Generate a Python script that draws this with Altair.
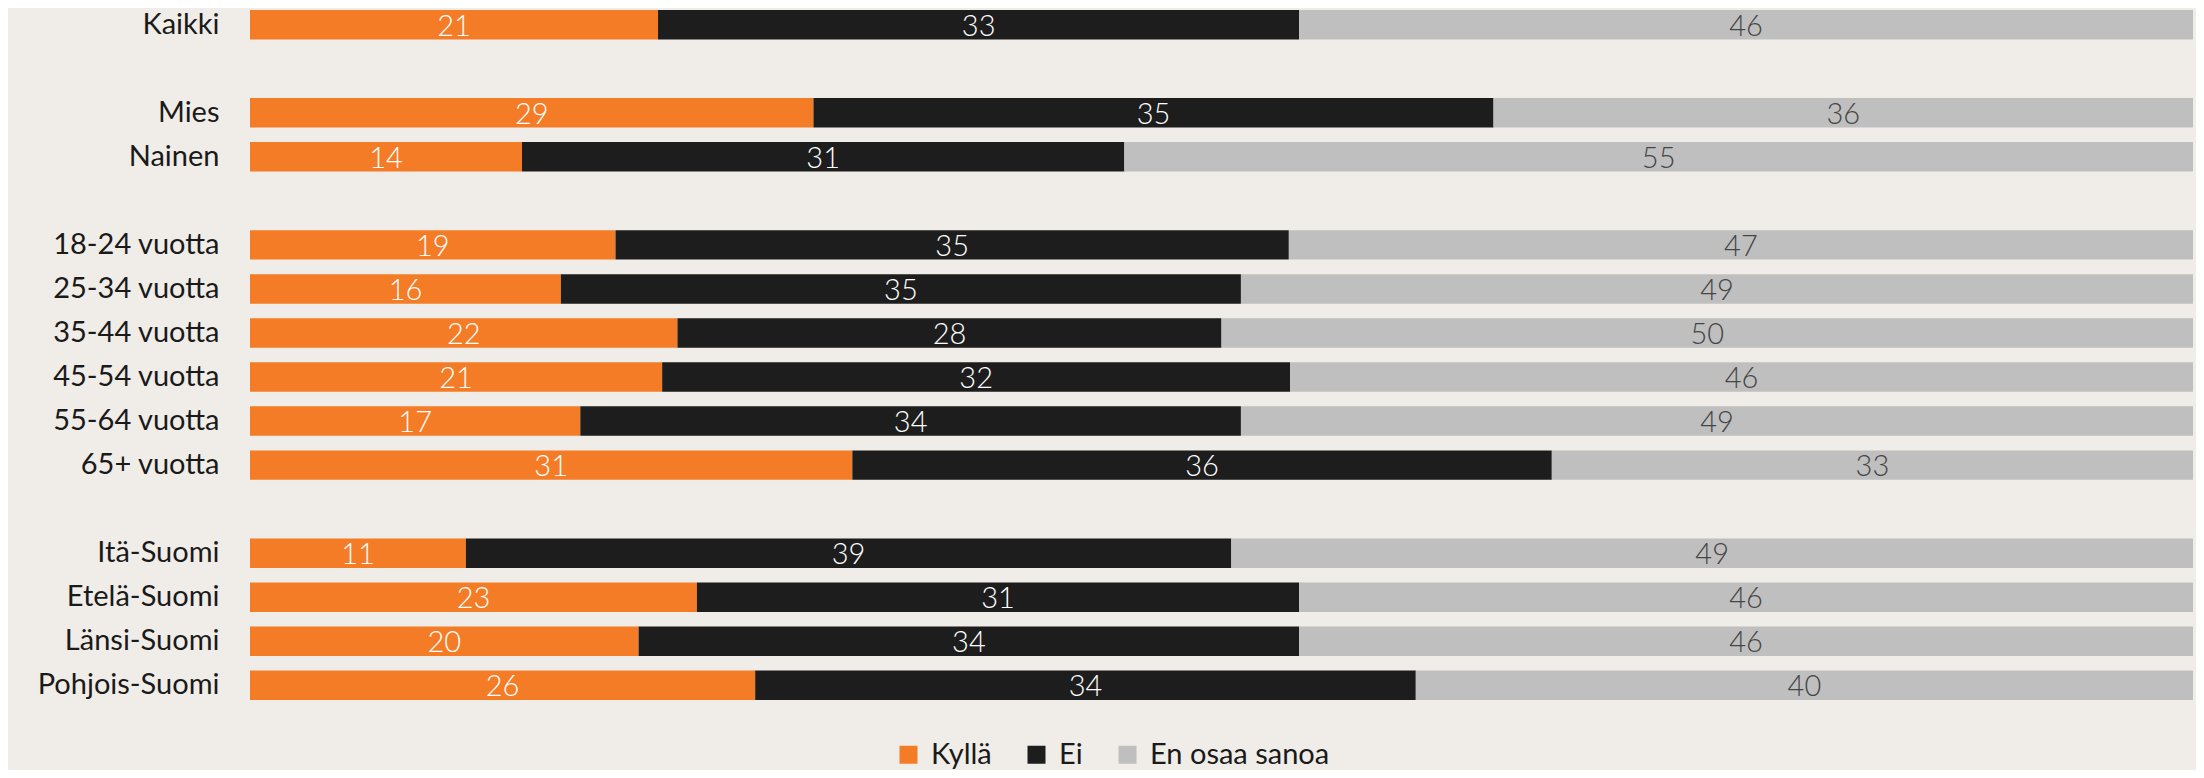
import altair as alt
import pandas as pd

groups = ["Kaikki", "Mies", "Nainen", "18-24 vuotta", "25-34 vuotta", "35-44 vuotta",
          "45-54 vuotta", "55-64 vuotta", "65+ vuotta", "Itä-Suomi", "Etelä-Suomi",
          "Länsi-Suomi", "Pohjois-Suomi"]
rows = ["Kaikki", "_1", "Mies", "Nainen", "_2", "18-24 vuotta", "25-34 vuotta", "35-44 vuotta",
        "45-54 vuotta", "55-64 vuotta", "65+ vuotta", "_3", "Itä-Suomi", "Etelä-Suomi",
        "Länsi-Suomi", "Pohjois-Suomi"]
categories = ["Kyllä", "Ei", "En osaa sanoa"]
kylla = [21, 29, 14, 19, 16, 22, 21, 17, 31, 11, 23, 20, 26]
ei = [33, 35, 31, 35, 35, 28, 32, 34, 36, 39, 31, 34, 34]
eos = [46, 36, 55, 47, 49, 50, 46, 49, 33, 49, 46, 46, 40]
colors = ["#F47C26", "#1D1D1D", "#BFBFBF"]
text_colors = ["#FFFFFF", "#FFFFFF", "#454545"]

recs = []
for i, g in enumerate(groups):
    for j, (c, vals) in enumerate(zip(categories, [kylla, ei, eos])):
        recs.append({"group": g, "cat": c, "order": j, "value": vals[i], "tc": text_colors[j]})
df = pd.DataFrame(recs)

FONT = "Lato"

base = alt.Chart(df).transform_stack(
    stack="value", groupby=["group"], as_=["v0", "v1"], offset="normalize",
    sort=[alt.SortField("order", order="ascending")]
).transform_calculate(mid="(datum.v0 + datum.v1) / 2")

yenc = alt.Y("group:N", scale=alt.Scale(domain=rows, paddingInner=0.333, paddingOuter=0),
             axis=alt.Axis(title=None, domain=False, ticks=False, labelFontSize=29,
                           labelFont=FONT, labelColor="#1a1a1a", labelPadding=31,
                           labelLimit=400,
                           labelExpr="indexof(datum.value, '_') == 0 ? '' : datum.value"))

bars = base.mark_bar(strokeWidth=0).encode(
    y=yenc,
    x=alt.X("v0:Q", scale=alt.Scale(domain=[0, 1], nice=False, zero=True), axis=None),
    x2="v1:Q",
    color=alt.Color("cat:N", scale=alt.Scale(domain=categories, range=colors),
                    legend=alt.Legend(title=None, orient="none", direction="horizontal",
                                      legendX=644, legendY=730, symbolType="square",
                                      symbolSize=324, symbolStrokeWidth=0, labelFont=FONT,
                                      labelFontSize=29, labelColor="#1a1a1a", labelOffset=8,
                                      labelLimit=400, columnPadding=30, symbolOpacity=1)),
)

labels = base.mark_text(font=FONT, fontSize=29, baseline="middle", dy=2, fontWeight=300).encode(
    y=alt.Y("group:N", scale=alt.Scale(domain=rows)),
    x=alt.X("mid:Q"),
    text=alt.Text("value:Q"),
    color=alt.Color("tc:N", scale=None),
)

chart = alt.layer(bars, labels).properties(
    width=1943, height=690,
    background="#F0EDE8",
    padding={"left": 242, "top": 2, "right": 3, "bottom": 70},
    autosize=alt.AutoSizeParams(type="none"),
).configure_view(stroke=None)

chart.save("out.html", embed_options={"renderer": "svg", "actions": False})
